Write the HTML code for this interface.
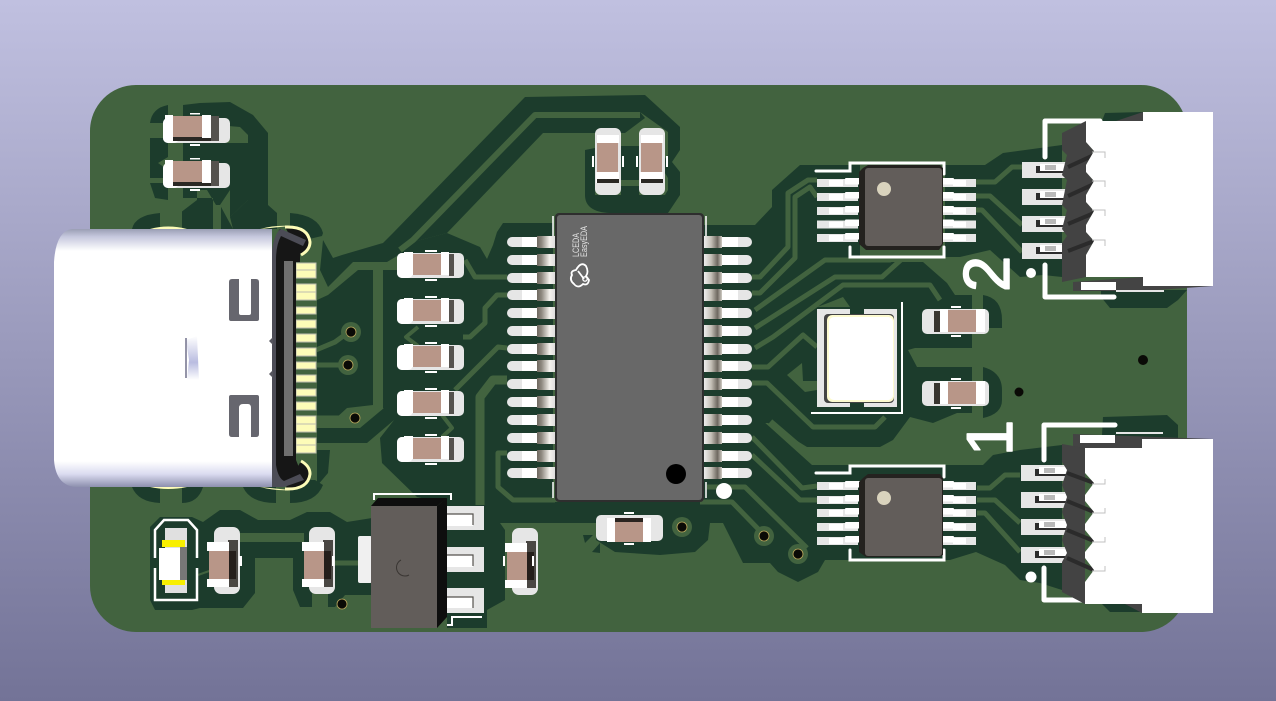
<!DOCTYPE html>
<html><head><meta charset="utf-8"><style>
html,body{margin:0;padding:0;width:1276px;height:701px;overflow:hidden;background:#9a9abc}
svg{display:block}
text{font-family:"Liberation Sans",sans-serif}
</style></head><body>
<svg width="1276" height="701" viewBox="0 0 1276 701" xmlns="http://www.w3.org/2000/svg">
<defs>
<linearGradient id="bg" x1="0" y1="0" x2="0" y2="1"><stop offset="0" stop-color="#c0c0e0"/><stop offset="1" stop-color="#737397"/></linearGradient>
<linearGradient id="usb" x1="0" y1="0" x2="0" y2="1"><stop offset="0" stop-color="#9a9eb4"/><stop offset=".03" stop-color="#c6c8de"/><stop offset=".085" stop-color="#fff"/><stop offset=".9" stop-color="#fff"/><stop offset=".95" stop-color="#dadbf0"/><stop offset="1" stop-color="#8d90ae"/></linearGradient>
<linearGradient id="ml" x1="0" y1="0" x2="1" y2="0"><stop offset="0" stop-color="#6e685f"/><stop offset=".25" stop-color="#8e887f"/><stop offset=".7" stop-color="#f4f1ec"/><stop offset="1" stop-color="#ddd"/></linearGradient>
<linearGradient id="mr" x1="0" y1="0" x2="1" y2="0"><stop offset="0" stop-color="#eee"/><stop offset=".4" stop-color="#c4bfb6"/><stop offset=".75" stop-color="#6e6860"/><stop offset="1" stop-color="#d0ccc4"/></linearGradient>
<linearGradient id="ref" x1="0" y1="0" x2="0" y2="1"><stop offset="0" stop-color="#fff"/><stop offset=".6" stop-color="#b9bce0"/><stop offset="1" stop-color="#fff"/></linearGradient>
<g id="ch">
 <rect x="0" y="0" width="67" height="25" rx="5" fill="#e6e6e6"/>
 <rect x="0" y="0" width="16" height="25" rx="5" fill="#fff"/>
 <rect x="52" y="1" width="5" height="22" fill="#55524e"/>
 <rect x="7" y="-1" width="9" height="23" fill="#fff"/>
 <rect x="16" y="1" width="28" height="21" fill="#b89688"/>
 <rect x="44" y="-1" width="8" height="23" fill="#fff"/>
 <rect x="28" y="-3" width="12" height="2" fill="#fff"/><rect x="28" y="26" width="12" height="2" fill="#fff"/>
</g>
<g id="ct">
 <rect x="0" y="0" width="67" height="25" rx="5" fill="#e6e6e6"/>
 <rect x="0" y="0" width="16" height="25" rx="5" fill="#fff"/>
 <rect x="10" y="19" width="44" height="4" fill="#2a2824"/>
 <rect x="48" y="-2" width="8" height="25" fill="#55524e"/>
 <rect x="2" y="-3" width="8" height="23" fill="#fff"/>
 <rect x="10" y="-2" width="29" height="21" fill="#b89688"/>
 <rect x="39" y="-3" width="9" height="23" fill="#fff"/>
 <rect x="27" y="-5" width="10" height="1.5" fill="#fff"/><rect x="27" y="26" width="10" height="2" fill="#fff"/>
</g>
<g id="cr">
 <rect x="0" y="0" width="67" height="25" rx="5" fill="#e6e6e6"/>
 <rect x="12" y="2" width="6" height="21" fill="#38352f"/>
 <rect x="18" y="0" width="8" height="23" fill="#fff"/>
 <rect x="26" y="1" width="28" height="22" fill="#b89688"/>
 <rect x="54" y="0" width="9" height="23" fill="#fff"/>
 <rect x="29" y="-3" width="10" height="2" fill="#fff"/><rect x="29" y="26" width="10" height="2" fill="#fff"/>
</g>
<g id="cvb">
 <rect x="7" y="0" width="26" height="67" rx="7" fill="#e6e6e6"/>
 <rect x="21" y="13" width="10" height="47" fill="#4a4743"/>
 <rect x="0" y="15" width="22" height="9" fill="#fff"/>
 <rect x="2" y="24" width="20" height="28" fill="#b89688"/>
 <rect x="22" y="24" width="7" height="28" fill="#241e1a"/>
 <rect x="0" y="52" width="22" height="8" fill="#fff"/>
</g>
<g id="cvt">
 <rect x="0" y="0" width="26" height="67" rx="6" fill="#e6e6e6"/>
 <rect x="2" y="7" width="22" height="8" fill="#fff"/>
 <rect x="2" y="15" width="21" height="29" fill="#b89688"/>
 <rect x="1" y="44" width="23" height="11" fill="#fff"/>
 <rect x="2" y="51" width="22" height="4" fill="#2a2824"/>
 <rect x="-3" y="28" width="2" height="11" fill="#fff"/><rect x="27" y="28" width="2" height="11" fill="#fff"/>
</g>
<g id="pl">
 <rect x="507" y="-5" width="30" height="10" rx="5" fill="#e6e6e6"/>
 <rect x="522" y="-5" width="16" height="10" fill="#fff"/>
 <rect x="537" y="-6" width="18" height="12" fill="url(#ml)"/>
</g>
<g id="pr">
 <rect x="722" y="-5" width="30" height="10" rx="5" fill="#e6e6e6"/>
 <rect x="722" y="-5" width="16" height="10" fill="#fff"/>
 <rect x="704" y="-6" width="18" height="12" fill="url(#mr)"/>
</g>
<g id="sl">
 <rect x="817" y="-4" width="41" height="8" fill="#e6e6e6"/>
 <rect x="829" y="-3" width="14" height="6" fill="#fff"/>
 <rect x="845" y="-5" width="16" height="6.5" rx="1" fill="#fff"/>
</g>
<g id="sr">
 <rect x="942" y="-4" width="34" height="8" fill="#e6e6e6"/>
 <rect x="953" y="-3" width="13" height="6" fill="#fff"/>
 <rect x="942" y="-5" width="12" height="6.5" rx="1" fill="#fff"/>
</g>
<g id="jp">
 <rect x="0" y="0" width="46" height="16" fill="#e6e6e6"/>
 <rect x="14" y="4" width="32" height="7" fill="#2c2c2c"/>
 <rect x="18" y="2" width="28" height="7" fill="#fff"/>
 <rect x="23" y="3" width="11" height="5" fill="#b9b9b9"/>
</g>
<g id="via"><circle r="10" fill="#42633f"/><circle r="5" fill="#0a0a06" stroke="#bba95e" stroke-width=".8"/></g>
</defs>

<rect width="1276" height="701" fill="url(#bg)"/>
<rect x="90" y="85" width="1097" height="547" rx="46" fill="#42633f"/>

<!-- dark clearance areas -->
<g fill="#1c3c2c" stroke="none">
 <path d="M150 123Q152 108 168 105V123Z"/>
 <path d="M150 138H168V157L158 163L168 170V178H150Z"/>
 <path d="M150 183H168V200L155 198Z"/>
 <path d="M183 105L200 103L230 102L253 115L268 133V205L277 213V229H233L230 217L248 200V135L240 127L183 122Z"/>
 <path d="M183 143H248V200L230 217L230 190L220 205H216L207 190L197 190V200L180 213V229H213V198L183 198Z"/>
 <path d="M220 205L233 229H220Z"/>
 <path d="M132 229Q135 215 160 213V229Z"/>
 <path d="M290 213Q318 215 323 233L322 236L305 240L290 229Z"/>
 <path d="M132 487Q138 502 160 503V487ZM182 487V503Q198 503 203 487ZM243 487Q250 503 276 503V487ZM290 487V503Q316 503 323 485L315 480H300Z"/>
 <path d="M323 240L333 258L342 255L383 243L393 233L447 233L413 242L397 256L387 262H353L328 287L320 270Z"/>
 <path d="M393 233L525 97L645 95L680 127V150L672 162L680 172V195L668 213H655L662 200L668 190V178L660 165L668 155V132L640 112L645 118L625 133H543L447 233Z"/>
 <path d="M585 150L595 148V205H665V213H610Q585 212 585 195Z"/>
 <rect x="621" y="146" width="18" height="34"/><rect x="621" y="186" width="18" height="24"/>
 <rect x="595" y="195" width="70" height="15"/>
 <path d="M317 300L328 295L358 270H373V405L347 408L335 419L317 417Z"/>
 <path d="M317 428H360L384 408L400 415L367 443H317Z"/>
 <path d="M317 450H330L328 473L317 486Z"/>
 <path d="M383 270H397V255L413 242L447 233L480 247L487 259L493 245L497 232L503 223H553V505H486L475 510L417 497L382 463L380 438L398 415L383 408Z"/>
 <path d="M486 502H723V523H710L708 540L695 552L660 555L630 553L615 552L596 540V523H500Z"/>
 <path d="M583 535H593L585 543ZM592 552L600 543V553Z"/>
 <path d="M703 225H755L772 207V190L800 165H860V262H923L947 283L955 295H972V348H915L908 350L917 367H972V413H957L933 423L910 417L893 440L880 447H807L768 423H703Z"/>
 <path d="M983 295Q1002 298 1002 320V328H983ZM983 367Q1002 372 1002 390V400Q1002 414 983 418Z"/>
 <path d="M703 420H762L812 465H983L993 455L1020 450L1062 445V590L1040 583L1020 580L1005 565L976 552L950 560H825L818 572L798 582L778 572L770 563H743L733 543L723 523H703Z"/>
 <path d="M945 165H985L1003 153L1062 145V277L1043 275L1020 277L990 250L960 257H945Z"/>
 <path d="M1102 121L1105 113L1143 112V121Z"/>
 <path d="M1101 290V297L1110 308H1167L1178 300L1187 290Z"/>
 <path d="M1102 435L1103 417L1167 415L1178 425V440Z"/>
 <path d="M1102 604L1110 612H1142V604Z"/>
 <path d="M150 527L160 517H192L203 522L220 510H240L258 520H290L307 512H330L347 522L372 518V595H345L335 607H300L293 590V558H255V593L243 608H200L192 610H155L150 600Z"/>
 <path d="M447 495H497L500 523L505 530V600L487 610V628H447Z"/>
</g>

<!-- light traces -->
<g fill="none" stroke="#42633f" stroke-width="5" stroke-linejoin="round" stroke-linecap="butt">
 <path d="M640 115H535L413 240L400 250" stroke-width="6"/>
 <path d="M240 537.5H304" stroke-width="9"/>
 <path d="M335 563H372" stroke-width="5"/>
 <path d="M320 590V610" stroke-width="16"/>
 <path d="M198 575L212 570" stroke-width="2"/>
 <path d="M175 143V229" stroke-width="14"/>
 <path d="M218 205V229" stroke-width="6"/>
 <path d="M465 260L475 277H507"/>
 <path d="M507 295H497L485 308V323L470 337H463"/>
 <path d="M507 348L498 347L455 390"/>
 <path d="M507 380H493L480 397V505" stroke-width="9"/>
 <path d="M507 453H498V487L513 500H555" stroke-width="5"/>
 <path d="M418 327L406 337L418 346M442 415L452 428L442 437" stroke-width="4"/>
 <path d="M752 277H760L788 247V193L808 180H817"/>
 <path d="M752 293H760L795 258V197L810 187L817 197"/>
 <path d="M755 310L825 260H890L903 248"/>
 <path d="M755 328L835 277H882L903 258"/>
 <path d="M755 348L773 337L843 285H930L940 300"/>
 <path d="M752 367H768L803 335L817 347"/>
 <path d="M752 383H767L813 427H875L885 417"/>
 <path d="M770 422L805 452" stroke-width="7"/>
 <path d="M752 437L802 488L817 486"/>
 <path d="M752 455L800 500H817"/>
 <path d="M707 487H745L807 548" stroke-width="5"/>
 <path d="M700 502H732L765 536" stroke-width="5"/>
 <path d="M976 182H995L1012 167H1022"/>
 <path d="M976 196H990L1022 225"/>
 <path d="M976 210H982L1022 252"/>
 <path d="M977 488H990L1005 475H1020"/>
 <path d="M977 500H995L1020 523"/>
 <path d="M977 513H985L1020 552"/>
</g>
<path d="M787 375L802 363L803 381H817V390L805 392ZM828 303L843 297L850 307H817Z" fill="#42633f"/>

<!-- vias -->
<use href="#via" x="351" y="332"/><use href="#via" x="348" y="365"/><use href="#via" x="355" y="418"/>
<path d="M316 350L335 342L346 334M316 365H340M316 418H345" stroke="#42633f" stroke-width="5" fill="none"/>
<circle cx="342" cy="604" r="5" fill="#0a0a06" stroke="#bba95e" stroke-width=".8"/><use href="#via" x="682" y="527"/><use href="#via" x="764" y="536"/>
<use href="#via" x="798" y="554"/>
<circle cx="1019" cy="392" r="4.5" fill="#0a0a06"/><circle cx="1143" cy="360" r="5" fill="#0a0a06"/>

<!-- top left caps -->
<use href="#ct" x="163" y="118"/><use href="#ct" x="163" y="163"/>

<!-- cap column -->
<use href="#ch" x="397" y="253"/><use href="#ch" x="397" y="299"/><use href="#ch" x="397" y="345"/><use href="#ch" x="397" y="391"/><use href="#ch" x="397" y="437"/>

<!-- top vertical caps -->
<use href="#cvt" x="595" y="128"/><use href="#cvt" x="639" y="128"/>

<!-- bottom centre cap -->
<g>
 <rect x="596" y="515" width="67" height="26" rx="5" fill="#e6e6e6"/>
 <rect x="607" y="518" width="8" height="24" fill="#fff"/>
 <rect x="615" y="522" width="28" height="20" fill="#b89688"/><rect x="615" y="518" width="28" height="4" fill="#2a2420"/>
 <rect x="643" y="518" width="8" height="24" fill="#fff"/>
 <rect x="624" y="512" width="10" height="2" fill="#fff"/><rect x="624" y="543" width="10" height="2" fill="#fff"/>
</g>

<!-- right caps -->
<use href="#cr" x="922" y="309"/><use href="#cr" x="922" y="381"/>

<!-- main IC pins -->
<use href="#pl" y="242"/><use href="#pl" y="260"/><use href="#pl" y="278"/><use href="#pl" y="295"/><use href="#pl" y="313"/><use href="#pl" y="331"/><use href="#pl" y="349"/><use href="#pl" y="366"/><use href="#pl" y="384"/><use href="#pl" y="402"/><use href="#pl" y="420"/><use href="#pl" y="438"/><use href="#pl" y="456"/><use href="#pl" y="473"/>
<use href="#pr" y="242"/><use href="#pr" y="260"/><use href="#pr" y="278"/><use href="#pr" y="295"/><use href="#pr" y="313"/><use href="#pr" y="331"/><use href="#pr" y="349"/><use href="#pr" y="366"/><use href="#pr" y="384"/><use href="#pr" y="402"/><use href="#pr" y="420"/><use href="#pr" y="438"/><use href="#pr" y="456"/><use href="#pr" y="473"/>
<path d="M553 216V236M553 482V498M706 216V236M706 482V498" stroke="#fff" stroke-width="1.5"/>
<!-- main IC -->
<rect x="555" y="213" width="149" height="289" rx="4" fill="#2e2e2e"/>
<rect x="557" y="215" width="145" height="285" rx="3" fill="#686868"/>
<circle cx="676" cy="474" r="10" fill="#000"/>
<circle cx="724" cy="491" r="8" fill="#fff"/>
<text transform="translate(579,257) rotate(-90)" font-size="9" fill="#e4e4e4" textLength="24" lengthAdjust="spacingAndGlyphs">LCEDA</text>
<text transform="translate(587,257) rotate(-90)" font-size="9" fill="#e4e4e4" textLength="31" lengthAdjust="spacingAndGlyphs">EasyEDA</text>
<path d="M576 270Q581 261 586 266Q589 272 586 276L589 280Q588 286 583 284Q578 289 574 284Q569 280 572 275Q570 271 576 270ZM578 271L584 279" fill="none" stroke="#fff" stroke-width="1.8"/>
<circle cx="585" cy="279" r="2.2" fill="none" stroke="#fff" stroke-width="1.3"/>

<!-- IC1 -->
<path d="M816 171H850V163H944V174M850 247V257H944V247" fill="none" stroke="#fff" stroke-width="3" stroke-linecap="round"/>
<use href="#sl" y="183"/><use href="#sl" y="197"/><use href="#sl" y="211"/><use href="#sl" y="224.5"/><use href="#sl" y="238"/>
<use href="#sr" y="183"/><use href="#sr" y="197"/><use href="#sr" y="211"/><use href="#sr" y="224.5"/><use href="#sr" y="238"/>
<path d="M863 168L868 165H940L943 168V244L939 250H866L859 244V172Z" fill="#24221f"/>
<rect x="865" y="168" width="77" height="78" rx="3" fill="#625d5a"/>
<circle cx="884" cy="189" r="7" fill="#d9d3bd"/>
<!-- IC2 -->
<path d="M816 473H850V466H944V477M850 550V560H944V550" fill="none" stroke="#fff" stroke-width="3" stroke-linecap="round"/>
<use href="#sl" y="486"/><use href="#sl" y="500"/><use href="#sl" y="513"/><use href="#sl" y="527"/><use href="#sl" y="541"/>
<use href="#sr" y="486"/><use href="#sr" y="500"/><use href="#sr" y="513"/><use href="#sr" y="527"/><use href="#sr" y="541"/>
<path d="M863 478L868 474H940L943 478V555L939 557H866L859 552V482Z" fill="#24221f"/>
<rect x="865" y="478" width="77" height="78" rx="3" fill="#625d5a"/>
<circle cx="884" cy="498" r="7" fill="#d9d3bd"/>

<!-- crystal -->
<path d="M902 302V413H811" fill="none" stroke="#fff" stroke-width="2"/>
<path d="M817 309H850V315H864V309H897V407H864V402H850V407H817Z" fill="#e6e6e6"/>
<rect x="824" y="314" width="70" height="89" rx="4" fill="#444"/>
<rect x="827" y="315" width="67" height="87" rx="5" fill="#fdfbd0"/>
<rect x="829" y="317" width="64" height="83" rx="5" fill="#fff"/>

<!-- silkscreen numbers -->
<text transform="translate(1009,292) rotate(-90)" font-size="65" fill="#fff" stroke="#fff" stroke-width="1.5" stroke-linejoin="round">2</text>
<text transform="translate(1012,456) rotate(-90)" font-size="65" fill="#fff" stroke="#fff" stroke-width="1.5" stroke-linejoin="round">1</text>

<!-- connector top -->
<path d="M1045 157V121H1100M1045 265V297H1114" fill="none" stroke="#fff" stroke-width="5" stroke-linecap="round" stroke-linejoin="round"/>
<circle cx="1031" cy="273" r="5" fill="#fff"/>
<use href="#jp" x="1022" y="162"/><use href="#jp" x="1022" y="189"/><use href="#jp" x="1022" y="216"/><use href="#jp" x="1022" y="243"/>
<path d="M1073 282V291H1143L1213 286H1143V277Z" fill="#444"/>
<rect x="1081" y="282" width="35" height="8" fill="#fff"/>
<rect x="1116" y="290" width="48" height="2" fill="#e6e6e6"/>
<path d="M1116 121L1143 112V121Z" fill="#444"/>
<path d="M1062 133L1086 121V142L1094 151L1086 165V172L1094 181L1086 195V202L1094 211L1086 225V232L1094 241L1086 255V277L1062 282V243L1067 236L1062 229L1067 210L1062 205L1067 180L1062 175L1067 155L1062 150Z" fill="#434343"/>
<path d="M1068 167L1094 155M1068 196L1094 184M1068 224L1094 213M1068 251L1094 241" stroke="#2b2b2b" stroke-width="4"/>
<path d="M1086 121H1143V112H1213V286H1143V277H1086V255L1094 241L1086 232V225L1094 211L1086 202V195L1094 181L1086 172V165L1094 151L1086 142Z" fill="#fff"/>
<path d="M1092 152H1105V158M1092 181H1105V187M1092 210H1105V216M1092 240H1105V246" fill="none" stroke="#c0c0c0" stroke-width="1"/>

<!-- connector bottom -->
<path d="M1044 460V425H1115M1044 568V600H1082" fill="none" stroke="#fff" stroke-width="5" stroke-linecap="round" stroke-linejoin="round"/>
<circle cx="1031" cy="577" r="5.5" fill="#fff"/>
<use href="#jp" x="1021" y="465"/><use href="#jp" x="1021" y="492"/><use href="#jp" x="1021" y="519"/><use href="#jp" x="1021" y="547"/>
<path d="M1073 434L1213 439H1142V448H1073Z" fill="#444"/>
<rect x="1080" y="435" width="35" height="8" fill="#fff"/>
<rect x="1116" y="432" width="47" height="2" fill="#e6e6e6"/>
<path d="M1125 604L1142 613V604Z" fill="#444"/>
<path d="M1062 444L1085 448V604L1062 592V562L1067 553L1062 540L1067 525L1062 512L1067 497L1062 485L1067 470L1062 462Z" fill="#434343"/>
<path d="M1067 473L1094 483M1067 501L1094 512M1067 530L1094 541M1067 558L1094 570" stroke="#2b2b2b" stroke-width="4"/>
<path d="M1085 448H1142V439H1213V613H1142V604H1085V582L1094 570L1085 558V552L1094 541L1085 530V524L1094 512L1085 501V495L1094 483L1085 473Z" fill="#fff"/>
<path d="M1092 484H1105V479M1092 513H1105V508M1092 542H1105V537M1092 571H1105V566" fill="none" stroke="#c0c0c0" stroke-width="1"/>

<!-- bottom left LED -->
<path d="M155 558V530L164 520H188L197 530V558M197 568V600H155V568" fill="none" stroke="#fff" stroke-width="2.5"/>
<rect x="165" y="528" width="22" height="65" fill="#e0e0e0"/>
<rect x="162" y="540" width="23" height="7" fill="#f8ef00"/><rect x="162" y="580" width="23" height="5" fill="#f8ef00"/>
<rect x="180" y="547" width="7" height="33" fill="#777"/>
<rect x="159" y="548" width="21" height="32" fill="#fff"/>

<use href="#cvb" x="207" y="527"/><use href="#cvb" x="302" y="527"/><use href="#cvb" x="505" y="528"/>
<rect x="332" y="556" width="2.5" height="10" fill="#fff"/><rect x="239" y="556" width="3" height="10" fill="#fff"/>
<rect x="503" y="556" width="2" height="10" fill="#fff"/><rect x="532" y="556" width="2" height="10" fill="#fff"/>

<!-- regulator -->
<path d="M374 500V494H451V500M447 625H452V617H482" fill="none" stroke="#fff" stroke-width="2"/>
<rect x="446" y="506" width="38" height="24" fill="#e6e6e6"/><rect x="446" y="547" width="38" height="25" fill="#e6e6e6"/><rect x="446" y="588" width="38" height="25" fill="#e6e6e6"/>
<path d="M445 514H473V526H445ZM445 555H473V567H445ZM445 597H473V608H445Z" fill="#fff"/>
<path d="M445 514H473V525M445 555H473V566M445 597H473V608" fill="none" stroke="#55524e" stroke-width="1.2"/>
<rect x="358" y="536" width="14" height="47" rx="2" fill="#f0f0f0"/>
<path d="M371 506L378 498H447L437 506Z" fill="#0e0e0e"/>
<path d="M437 506L447 498V617L437 628Z" fill="#0e0e0e"/>
<rect x="371" y="506" width="66" height="122" fill="#625d5a"/>
<path d="M401 560A8 8 0 1 0 409 575" fill="none" stroke="#3a3633" stroke-width="1"/>

<!-- USB pads -->
<path d="M150 229Q168 224 187 229ZM260 229Q275 225 290 226" fill="#fdfcb8"/>
<path d="M150 487Q168 491 187 487ZM260 487Q275 491 290 490" fill="#fdfcb8"/>
<path d="M285 227Q308 226 310 242Q310 250 301 255Z" fill="#161616"/>
<path d="M285 489Q308 490 310 474Q310 466 301 461Z" fill="#161616"/>
<path d="M285 227Q308 226 310 242Q310 250 301 255" fill="none" stroke="#fdfcb8" stroke-width="3"/>
<path d="M285 489Q308 490 310 474Q310 466 301 461" fill="none" stroke="#fdfcb8" stroke-width="3"/>
<g fill="#fdfcb8" stroke="#bdbdb0" stroke-width="1">
 <rect x="296" y="263" width="20" height="7"/><rect x="296" y="270" width="20" height="8"/>
 <rect x="296" y="284" width="20" height="8"/><rect x="296" y="292" width="20" height="8"/>
 <rect x="296" y="307" width="20" height="7"/><rect x="296" y="320" width="20" height="8"/>
 <rect x="296" y="334" width="20" height="8"/><rect x="296" y="348" width="20" height="8"/>
 <rect x="296" y="362" width="20" height="7"/><rect x="296" y="375" width="20" height="7"/>
 <rect x="296" y="389" width="20" height="7"/><rect x="296" y="402" width="20" height="8"/>
 <rect x="296" y="416" width="20" height="8"/><rect x="296" y="424" width="20" height="8"/>
 <rect x="296" y="438" width="20" height="7"/><rect x="296" y="445" width="20" height="8"/>
</g>

<!-- USB shell -->
<path d="M72 229H272V487H78Q56 487 54 460V262Q56 231 72 229Z" fill="url(#usb)"/>
<path d="M272 487Q272 478 274 290V250Q275 235 280 229L305 241L300 254V262H296V460L300 470L302 476L281 487Z" fill="#161616"/>
<path d="M272 487Q272 478 272 290V250Q275 232 281 229L306 240L303 246L281 236Q276 245 276 260V465Q278 478 284 481L300 474L304 480L284 487Z" fill="#4c4c56"/>
<rect x="284" y="261" width="9" height="195" fill="#6f6f6f"/>
<!-- U slots -->
<path d="M229 282Q229 279 232 279H239V313Q239 315 241 315H249Q251 315 251 313V279H256Q259 279 259 282V319Q259 321 257 321H231Q229 321 229 319Z" fill="#66666e"/>
<path d="M229 434Q229 437 232 437H239V408Q239 404 243 404H248Q251 404 251 408V437H256Q259 437 259 434V397Q259 395 257 395H231Q229 395 229 397Z" fill="#66666e"/>
<path d="M186 340L197 336L199 380H187L189 360Z" fill="url(#ref)"/>
<path d="M186 338V378" stroke="#70708a" stroke-width="1.5"/>
<path d="M273 337L269 341L273 345ZM273 370L269 374L273 378Z" fill="#55555e"/>
</svg>
</body></html>
